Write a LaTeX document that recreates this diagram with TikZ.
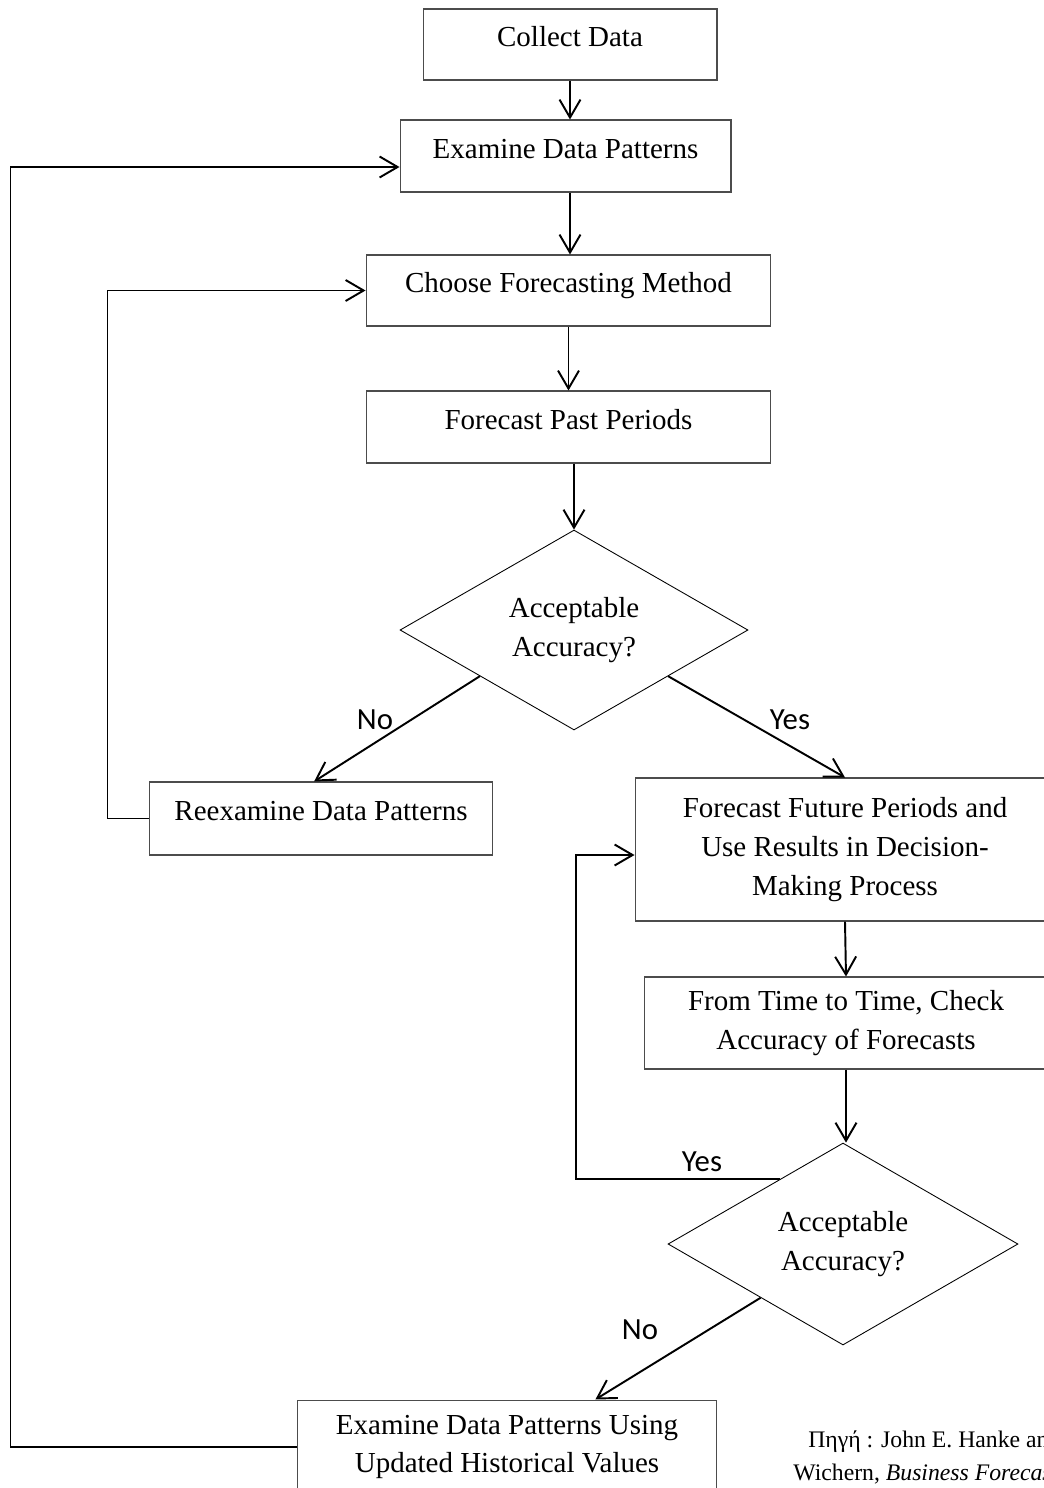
\documentclass[tikz,border=0pt]{standalone}
\usepackage{fontspec}
\setmainfont{Liberation Serif}
\newfontfamily\lblfont{Carlito}
\usetikzlibrary{shapes.geometric, arrows.meta, calc}

\tikzset{
  box/.style={draw=black!70, line width=0.6pt, inner sep=0pt, align=center,
    font=\fontsize{16.5}{22}\selectfont},
  onebox/.style={box, text height=0.45cm, text depth=0.37cm},
  decision/.style={diamond, aspect=1.74, draw, line width=0.5pt, inner sep=0pt,
    align=center, font=\fontsize{16.5}{22}\selectfont,
    minimum width=6.96cm, minimum height=4cm},
  conn/.style={line width=1.1pt, -{Straight Barb[length=0.36cm,width=0.42cm]}},
  lbl/.style={font=\lblfont\fontsize{17.5}{20}\selectfont},
  srctext/.style={font=\fontsize{13.5}{18}\selectfont, inner sep=0pt, anchor=base west},
}

\begin{document}
\begin{tikzpicture}[x=0.02cm, y=-0.02cm]
  \useasboundingbox (0,0) rectangle (1044,1488);
  \clip (0,0) rectangle (1044,1488);

  % boxes
  \node[onebox, minimum width=5.88cm, minimum height=1.42cm] (cd) at (570,44.5) {Collect Data};
  \node[onebox, minimum width=6.62cm, minimum height=1.44cm] (edp) at (565.5,156) {Examine Data Patterns};
  \node[onebox, minimum width=8.1cm, minimum height=1.42cm] (cfm) at (568.5,290.5) {Choose Forecasting Method};
  \node[onebox, minimum width=8.1cm, minimum height=1.44cm] (fpp) at (568.5,427) {Forecast Past Periods};
  \node[decision] (d1) at (574,630) {Acceptable\\Accuracy?};
  \node[onebox, minimum width=6.88cm, minimum height=1.46cm] (rdp) at (321,818.5) {Reexamine Data Patterns};
  \node[box, minimum width=8.4cm, minimum height=2.86cm] (ffp) at (845,849.5)
    {Forecast Future Periods and\\Use Results in Decision-\\Making Process};
  \node[box, minimum width=8.08cm, minimum height=1.84cm] (ftt) at (846,1023)
    {From Time to Time, Check\\Accuracy of Forecasts};
  \node[decision, minimum width=7cm, minimum height=4.04cm] (d2) at (843,1244) {Acceptable\\Accuracy?};
  \node[box, minimum width=8.4cm, minimum height=1.88cm] (edu) at (507,1447)
    {Examine Data Patterns Using\\Updated Historical Values};

  % points on the diamond edges
  \coordinate (no1) at ($(d1.west)!0.46!(d1.south)$);
  \coordinate (yes1) at ($(d1.east)!0.46!(d1.south)$);
  \coordinate (yes2) at ($(d2.west)!0.64!(d2.north)$);
  \coordinate (no2) at ($(d2.west)!0.53!(d2.south)$);

  % main flow
  \draw[conn] (cd.south) -- (cd.south |- edp.north);
  \draw[conn] (cd.south |- edp.south) -- (cd.south |- cfm.north);
  \draw[conn] (cfm.south) -- (fpp.north);
  \draw[conn] (d1.north |- fpp.south) -- (d1.north);
  \draw[conn] (no1) -- ($(rdp.north west)!0.48!(rdp.north east)$);
  \draw[conn] (yes1) -- (ffp.north);
  \draw[conn] (ffp.south) -- (ftt.north);
  \draw[conn] (ftt.south) -- (ftt.south |- d2.north);
  \draw[conn] (no2) -- ($(edu.north west)!0.71!(edu.north east)$);

  % loops back
  \draw[conn] (rdp.west) -- ++(-41,0) |- (cfm.west);
  \draw[conn] (yes2) -- ++(-204,0) |- ([yshift=-0.11cm]ffp.west);
  \draw[conn] (edu.west) -- ++(-286,0) |- ([yshift=-0.22cm]edp.west);

  % labels
  \node[lbl] (lno1) at (375,720) {No};
  \node[lbl] (lyes1) at (790,720) {Yes};
  \node[lbl] (lyes2) at (702,1162) {Yes};
  \node[lbl] (lno2) at (640,1330) {No};

  % source
  \node[srctext] (src1) at (808,1447) {Πηγή : John E. Hanke and Dean W.};
  \node[srctext] (src2) at (793,1480) {Wichern, \textit{Business Forecasting}};
\end{tikzpicture}
\end{document}
